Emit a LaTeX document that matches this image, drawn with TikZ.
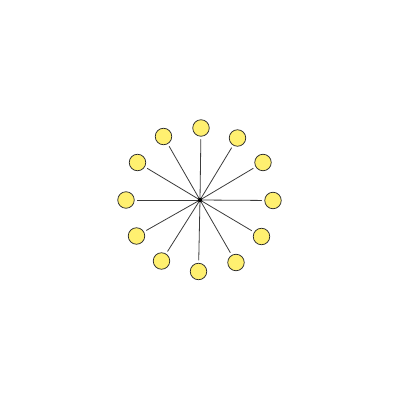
\documentclass[tikz,border=0pt]{standalone}
\usetikzlibrary{backgrounds}
\definecolor{dotfill}{RGB}{255,240,112}
\definecolor{dotline}{RGB}{40,40,40}
\definecolor{spoke}{RGB}{60,60,60}
\tikzset{
  leaf/.style={circle,draw=dotline,fill=dotfill,line width=0.75pt,minimum size=16.5pt,inner sep=0pt,outer sep=3pt},
  hub/.style={circle,fill=black,minimum size=4.5pt,inner sep=0pt},
  spokeline/.style={draw=spoke,line width=0.8pt}
}
\begin{document}
\begin{tikzpicture}[x=1pt,y=-1pt]
\useasboundingbox (0,0) rectangle (400,400);
\node[hub] (c) at (200,200) {};
\node[leaf] (n1) at (201,128) {};
\node[leaf] (n2) at (237.5,138) {};
\node[leaf] (n3) at (263,162.5) {};
\node[leaf] (n4) at (273,200.5) {};
\node[leaf] (n5) at (261.5,236.5) {};
\node[leaf] (n6) at (236,262.5) {};
\node[leaf] (n7) at (198.5,271.5) {};
\node[leaf] (n8) at (161.5,261) {};
\node[leaf] (n9) at (136.5,236) {};
\node[leaf] (n10) at (126,200) {};
\node[leaf] (n11) at (137.5,162.5) {};
\node[leaf] (n12) at (163.5,136.5) {};
\begin{scope}[on background layer]
\foreach \i in {1,...,12} {\draw[spokeline] (c.center) -- (n\i);}
\end{scope}
\end{tikzpicture}
\end{document}
